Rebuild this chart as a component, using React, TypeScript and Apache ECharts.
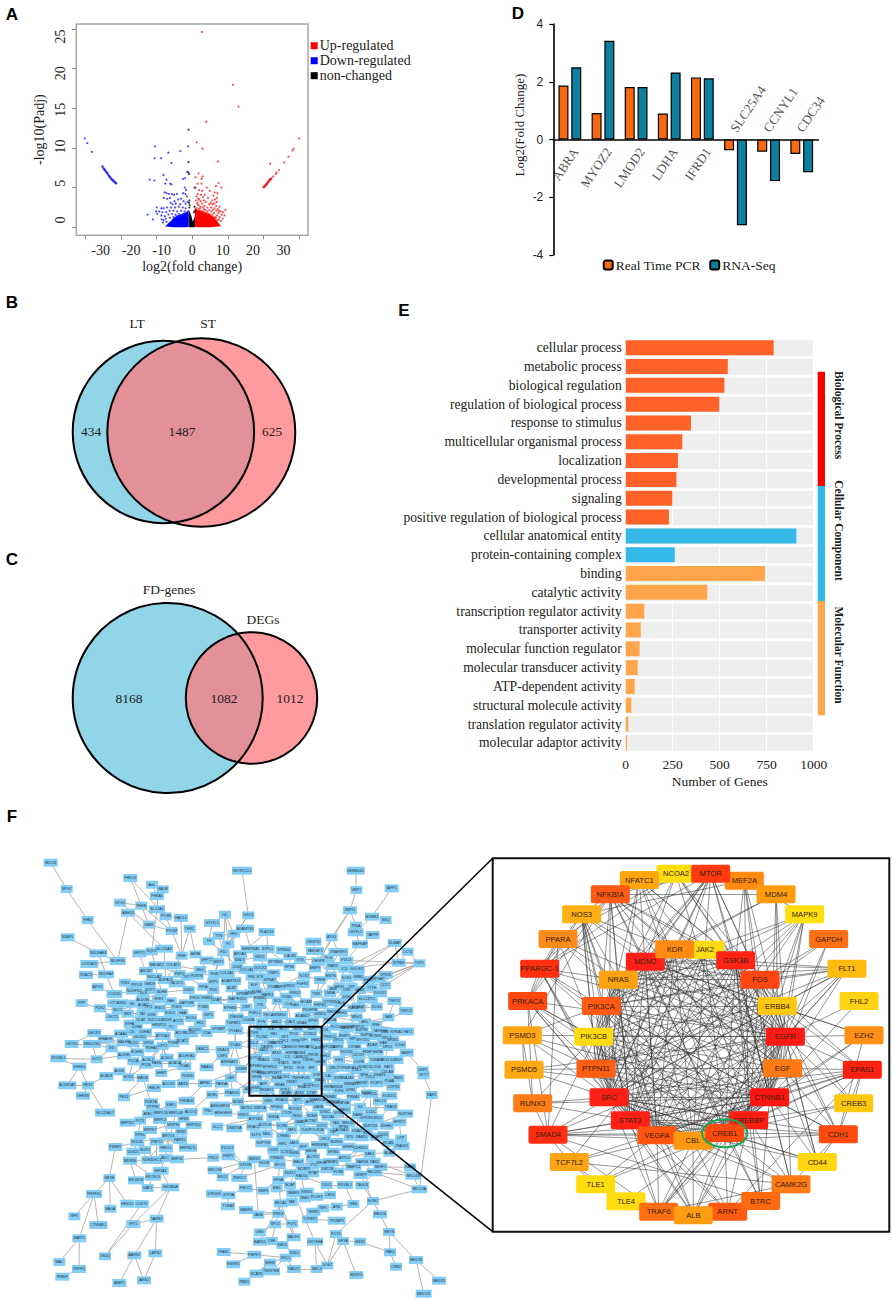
import React, { useEffect, useRef } from "react";
import * as echarts from "echarts";

const SERIF = "Liberation Serif";
const SANS = "Liberation Sans";

// ---------- Panel A ----------
const upPoints = [[3.2,24.6],[13.4,17.95],[15.2,15.2],[4.6,13.3],[1.5,10.7],[3.4,9.9],[8.5,8.3],[2.1,6.8],[3.4,6.4],[3.1,6.1],[1.8,5.5],[8.7,5.6],[3.1,5.5],[7.8,5.2],[9.6,5.0],[1.2,5.0],[4.8,5.0],[2.3,4.7],[3.3,4.6],[5.8,4.6],[1.8,4.2],[7.4,4.4],[8.3,4.3],[2.9,4.1],[4.1,4.1],[7.0,4.0],[1.5,3.9],[3.6,3.8],[5.2,3.7],[8.1,3.7],[7.5,3.5],[2.3,3.5],[6.6,3.4],[2.8,3.3],[4.5,3.2],[8.0,3.2],[1.7,3.1],[3.3,3.0],[7.2,3.0],[5.6,2.9],[6.7,2.9],[2.1,2.8],[4.0,2.7],[7.9,2.7],[9.0,2.6],[2.7,2.6],[3.5,2.5],[5.0,2.5],[6.2,2.5],[1.4,2.4],[7.3,2.4],[8.4,2.3],[2.3,2.3],[4.4,2.2],[5.6,2.2],[6.8,2.2],[10.9,2.2],[3.0,2.1],[7.9,2.1],[9.3,2.0],[10.2,1.9],[1.8,2.9],[3.7,2.0],[5.0,2.0],[6.3,2.0],[8.6,1.8],[2.5,2.4],[4.3,1.8],[7.2,1.8],[9.7,1.6],[10.6,1.5],[5.6,1.7],[6.7,1.6],[8.1,1.5],[9.0,1.3],[10.0,1.1],[7.8,1.2],[8.7,1.0],[6.0,1.5],[4.9,1.7],[7.4,1.3],[8.3,0.9],[9.4,0.8],[3.9,2.3],[2.0,3.6],[1.3,3.4],[1.1,6.3],[3.9,3.4],[6.1,3.1],[8.8,2.1],[25.6,8.0],[27.4,6.7],[28.5,7.2],[30.2,8.16],[31.6,8.9],[32.9,9.67],[33.3,9.9],[35.1,11.2],[27.7,6.9],[26.6,6.4]];
const upLine = [[23.5,5.06],[23.8,5.2],[24.1,5.3],[24.4,5.45],[24.7,5.6],[25,5.75],[25.3,5.9],[25.6,6.05],[25.9,6.15]];
const upArea = [[0.9,0.05],[0.9,2.4],[2,2.2],[3.5,2.0],[5,1.8],[6.5,1.5],[7.5,1.1],[8.5,0.6],[9.5,0.15],[6,0.02],[3,0]];
const downPoints = [[-12.2,10.2],[-1.3,10.2],[-3.9,9.6],[-7.8,9.4],[-12.3,8.7],[-10.2,8.7],[-6.8,8.1],[-1.6,7.0],[-9.4,6.6],[-3.0,6.1],[-2.3,6.2],[-13.9,6.0],[-12.4,5.9],[-8.4,6.0],[-8.8,5.5],[-7.2,5.5],[-6.8,5.4],[-2.4,5.0],[-2.0,4.7],[-9.0,4.4],[-8.4,4.3],[-7.6,4.2],[-6.6,4.2],[-5.9,4.1],[-5.0,4.2],[-3.0,4.3],[-2.2,4.2],[-1.7,3.9],[-9.3,3.7],[-8.2,3.6],[-7.3,3.7],[-5.8,3.3],[-4.6,3.5],[-3.6,3.6],[-2.8,3.3],[-7.1,3.1],[-6.4,2.9],[-5.4,3.0],[-3.9,2.9],[-2.2,3.0],[-1.5,3.2],[-11.6,2.5],[-10.1,2.4],[-9.4,2.4],[-8.2,2.5],[-6.9,2.5],[-5.6,2.5],[-4.4,2.6],[-3.1,2.5],[-2.1,2.4],[-11.8,2.0],[-10.8,2.0],[-9.8,1.9],[-8.5,1.9],[-7.4,2.1],[-6.1,2.1],[-4.9,2.0],[-3.6,2.1],[-2.5,2.0],[-14.6,1.6],[-11.5,1.7],[-10.1,1.5],[-9.0,1.4],[-7.8,1.6],[-6.6,1.7],[-5.5,1.6],[-4.3,1.7],[-2.9,1.7],[-12.9,1.0],[-10.0,1.0],[-9.4,0.9],[-8.7,1.1],[-7.3,1.2],[-6.1,1.3],[-5.0,1.4],[-3.7,1.5],[-35.2,11.2],[-34.4,10.6],[-32.9,9.5],[-9.6,0.6],[-8.4,0.7]];
const downLine = [[-29.4,7.66],[-29,7.4],[-28.6,7.2],[-28.2,7],[-27.8,6.8],[-27.4,6.55],[-27,6.35],[-26.6,6.15],[-26.2,6],[-25.8,5.85],[-25.4,5.7],[-25,5.56]];
const downArea = [[-1.1,0.05],[-1.1,2.2],[-2,1.9],[-3.2,1.7],[-4.8,1.5],[-6,1.2],[-7,0.8],[-8,0.45],[-8.9,0.12],[-6,0.02],[-3,0]];
const nonPoints = [[-1.2,12.3],[-1.2,8.2],[-1.0,6.7],[-1.3,6.9],[-0.9,3.4],[-1.0,3.1],[-0.8,2.8],[0.8,2.6],[0.9,2.1],[0.8,5.0],[-0.9,2.5],[0.6,1.9]];
const nonArea = [[-1,0],[-1,2.2],[-0.3,1.5],[0.2,0.7],[0.9,1.4],[0.9,0]];
const xLabelsA = [-30, -20, -10, 0, 10, 20, 30];
const xTicksA = [-35.1, -23.4, -11.7, 0, 11.7, 23.4, 35.1];
const yTicksA = [0, 5, 10, 15, 20, 25];

// ---------- Panels B, C ----------
const vennB = { left: "434", both: "1487", right: "625", names: ["LT", "ST"] };
const vennC = { left: "8168", both: "1082", right: "1012", names: ["FD-genes", "DEGs"] };

// ---------- Panel D ----------
const genesD = ["ABRA", "MYOZ2", "LMOD2", "LDHA", "IFRD1", "SLC25A4", "CCNYL1", "CDC34"];
const pcrValues = [1.87, 0.92, 1.82, 0.9, 2.15, -0.37, -0.42, -0.5];
const rnaValues = [2.5, 3.42, 1.82, 2.32, 2.12, -2.97, -1.44, -1.13];

// ---------- Panel E ----------
const goTerms = ["cellular process","metabolic process","biological regulation","regulation of biological process","response to stimulus","multicellular organismal process","localization","developmental process","signaling","positive regulation of biological process","cellular anatomical entity","protein-containing complex","binding","catalytic activity","transcription regulator activity","transporter activity","molecular function regulator","molecular transducer activity","ATP-dependent activity","structural molecule activity","translation regulator activity","molecular adaptor activity"];
const goCounts = [787,543,525,498,347,301,278,270,248,230,908,261,741,434,99,80,74,64,48,30,14,7];
const goGroups = [0,0,0,0,0,0,0,0,0,0,1,1,2,2,2,2,2,2,2,2,2,2];
const goColors = ["#ff6229", "#33b8e8", "#ffa64d"];
const goSide = ["Biological Process", "Cellular Component", "Molecular Function"];

// ---------- Panel F, whole network ----------
const netNodesOuter: [string, number, number][] = [
["MICU3",152,98],["SPG7",200,177],["PHB2",263,270],["PHKG2",391,144],["AGL",456,164],["GALM",488,178],["PHKA1",471,198],["GYG1",360,218],["PHKB",424,227],["SLC2A1",471,238],["ABHD5",384,248],["PYGB",497,259],["HACL1",543,264],["GBE1",447,284],["PYGM",515,303],["TFRC",569,296],["GC",675,254],["GGCX",745,256],["VKORC1L1",726,122],["GYLTL1",636,279],["ADAMTS9",735,296],["PLA2G4",800,306],["TTN",656,317],["HPx",702,311],["TH",627,334],["F5",685,343],["F10",670,367],["APOA2",720,373],["SERPINA1",752,358],["SYPL1",803,357],["SPINK4",851,361],
["NUBPL",203,322],["NDUFAF6",295,370],["COX7A2L",268,402],["NDUFS4",353,393],["VDAC3",258,435],["NDUFA4",318,433],["APOO",293,471],["COX4I1",343,492],["TXN1",375,458],["PIPOX",410,464],["NDUFS2",402,482],["GFPT1",418,370],["NQO1",455,364],["SLC25A3",492,356],["PKM",545,377],["ASPA",586,373],["GFPT2",620,391],["MBOAT2",470,406],["COLAT1",519,406],["ABCB7",438,423],["SUCLA2",463,441],["AGPAT4",497,450],["GMDS",449,463],["PMT2",539,432],["BSG",600,420],["PUSTB",590,437],["FGB",643,432],["ADAMTS13",693,453],["ALB2",695,475],["KPNB1",728,492],
["PPP",245,519],["PDK2",300,535],["OXCT1",337,562],["SLC1",353,541],["NNT",383,551],["TAT",427,551],["ALDOB",428,510],["ACAD",429,526],["GK",396,521],["DLAT",423,571],["SUCLG1",465,570],["ETFA",389,581],["SDHB",485,487],["IFIH1",477,508],["FAH",512,514],["DGKD",566,480],["SOD1",510,549],["GAA",547,549],["ACO2",534,574],["NOX4",573,564],["PC",514,590],["HRSP12",478,584],["ACAA2",363,611],["DECR1",283,609],["HIBADH",317,627],["HADHB",372,637],["GSTK1",215,642],["HSD17B4",276,642],["IVD",335,655],["LDHA2",435,607],["GLUD1",420,622],["ATP5A1",488,618],["CPT2",488,648],["ECHS1",412,667],["ALDH9",372,676],["ACSL1",444,690],["ACSL3",500,683],["STOML1",175,685],["GOT2",290,688],["DHRS4",238,710],["PCCA",400,694],["IP11B",438,704],["ALDH",358,724],["ACAD8",319,738],["SOD2",385,742],["MAOB",428,744],["ALDH1A3",202,766],["PEX2",264,766],["DHRS9",249,797],["PEX1",372,802],["SLC25A17",315,848],["BCAT2",547,632],["MLXIPL",570,610],["CDA",620,609],["ALDH7A1",560,678],["SHMT",484,729],["ITGA5",553,709],["NAA10",620,712],["PDE4D",563,737],["ACOX2",506,762],["AASS",549,761],["AIFM1",615,760],["PARVA",665,761],["HIBCH",462,774],["LAMC1",607,657],["GNA13",668,660],["CSF1",667,678],["ITGA3",705,645],["ITGA10",706,602],["GPIHBP",655,597],["ARHGAP1",688,697],["CREM",723,717],["LBP",692,744],["PPARGC",697,788],["MOBL",637,794],
["PDE7A",453,817],["PTPN9",459,832],["EBF1",513,824],["PRKAG2",560,812],["ATAC",444,852],["MRPL18",482,848],["MRPL46",527,849],["ADCY2",572,846],["GFM1",551,866],["MRPS27",383,878],["PLT1",420,872],["MRPS10",581,885],["MRTO4",505,918],["RRS1",544,905],["MRPS27L",564,953],["HBS1L",498,955],["NOC3L",412,937],["PSMF1",346,951],["WDR36",390,992],["NOB1",442,990],["ADC",495,984],["EEF1D",531,988],["EIF4A1",482,1022],["EXOSC8",408,1051],["EXOSC9",459,1040],["GAP2",443,1074],["EIF2B4A",511,1072],["HEXB",328,1044],["PRPF31",282,1092],["NAGA",331,1136],["HEXDC",382,1121],["COX7C",425,1122],["RFK",223,1159],["CTNNBL1",295,1185],["SART1",238,1225],["WAC",178,1296],["PRPF3",237,1317],["IPMKP",187,1340],["GNG2",315,1279],["IFIT1",400,1182],["VARS2",470,1166],["AARS2",403,1276],["LARS2",466,1270],["AIMP1",358,1359],["IARS2",432,1351],
["PDCD4",682,955],["PNC2",640,983],["FSIP1",685,979],["WECOM",644,1021],["EXO1",668,1042],["ZNF217",718,1044],["GTF2H3",642,1091],["GTF3A",685,1096],["PHLYC",737,1075],["SMPX",790,1082],["TCEA3",684,1129],["GTF2B",736,1006],["MEIS2",763,988],["RUVB",793,1000],["WASF3",738,1140],["JADE",775,1154],["PRKG",835,1151],["BRCA1",842,1120],["TAF",875,1116],["MYO5",839,1005],["KPNA",835,1050],["NCAP",870,1066],["UNG",779,1207],["RFC2",826,1183],["POT1",876,1181],["BACH1",881,1222],["BARD1",780,1235],["CBF",815,1233],["SMC5",847,1245],["DROSHA",945,1235],["PIAS1",671,1266],["PMPKY",763,1274],["EWSR1",700,1303],["MSH2",810,1298],["NSD1",884,1270],["XRCC",857,1283],["NCAPD",770,1331],["TWISTNB",813,1324],["PMS1",733,1355],["RAD17",882,1317],["SMC3",950,1317],["DOK2",982,1306],["WDR76",1069,1335],["RCTK",1008,1212],["NFYA",1029,1233],["WSX1",1080,1235],["MED16",1140,1153],["SMTN",1167,1206],["PAK4",1170,1267],["CHN2",1188,1310],["MED18",1248,1290],["MED25",1317,1352],["MED12L",1271,1391],["NONO",1119,1113],["TAGLN",1087,1066],["CENPP",1082,1035],["SEC24C",1123,1027],["SENP1",1141,1011],["SAR1B",1087,996],["PAK1",1124,995],["CDKN2C",1082,955],["SAE1",1109,971],["RARS",1230,1012],["SEC16B",1240,1037],["SEC23A",1258,1078],["NAP5",1295,795],["SYT7",1271,736],["USP1",1268,721],
["KIF5",805,812],["MCM4",714,815],["ARHGEF18",660,827],["ARHGEF3",670,848],["PNC",625,844],["DLC1",652,890],["DNMT3A",703,895],["ATP1B3",766,866],["WNT5",730,855],["ELP3",768,914],["NEIL",800,911],["BOTCH",795,884],["KCNN",846,887],["CREB5",850,919],["HIF1",848,941],["JAK3",881,940],["EPP",910,950],["HMGB",933,963],["ACTR2",939,982],["LGR6",883,970],["MAU2",895,997],["NCBP2",912,1016],["WTAP",940,1030],["KMT2B",982,1018],["FLNB",1015,1025],["SREBF2",993,996],["ATP5J",1033,984],["NUP54",1009,936],["CFL2",975,926],["RAB23",1085,922],["STIL",1050,920],["DNAJ",1071,904],["CACNA1I",1022,901],["TAX",1007,878],["CCDC",1113,845],["RAB6",1073,855],["EID1",1133,865],["SEC13",1140,814],["NUP133",1111,889],["ZDHHC",1160,887],["HPRT1",1198,877],["TEAD3",1172,831],["NUP188",1216,851],["IDI",1080,831],["ITGA",1035,819],["KCNJ11",1168,797],["NUP205",1110,792],["LPP",1203,925],["ZNA201",1205,948],["RCAN",1165,938],["ADAM",1168,968],["TLE2",916,900],["CDK5",900,875],["APC",893,810],["ATF1",930,815],["GATA",955,832],["DTNC",975,846],["ROCK2",885,836],["TBX3",890,858],["RDM4",936,857],["ACTN2",932,872],["LIG",900,876],["DOT2",966,887],["VPS4",1015,850],
["BAND7",1040,594],["WWP1",1033,617],["HIP",1058,627],["MYO1C",1089,631],["KCNH2",1127,618],["ADAR",1117,646],["CRYAB",1063,650],["FKBP",1102,665],["HSPA",1133,665],["CRYZL1",1155,690],["CLPB",1077,696],["EIF4",1017,689],["PTPN2",1030,713],["COG3",1127,711],["KAT1",1165,712],["CULAB",1162,726],["DNAJA1",1040,743],["NMNAT1",1054,762],["NPH",1092,735],["PLAA",1168,752],["PCMT1",1130,760],["UFD1",1163,651],["YAP",1130,603],["GSK",1150,603],["TCF4",1017,782],["UPB1",1052,780],["CAL",985,738],["HRG",985,772],
["DENND4C",1067,122],["VMP1",1069,180],["IAPP1",1175,175],["WIPI1",1050,241],["MTMR1",1116,260],["SIK2",1157,270],["PIGA",1068,287],["LETFL1",1067,307],["TAPPF",1118,315],["MAPKAP",1080,343],["SLMAP",1184,339],["CCT4",1223,365],["TCP1",1258,400],["STRBX",1196,398],["ATG5",995,322],["CHGP10",940,335],["TAB1BP1",945,363],["TRAF3IP3",1015,366],["PDLI3",1039,391],["CHGP6",955,394],["IRAK3",998,408],["IC3",1033,416],["GIGYF2",1070,418],["VPS35",1157,435],["PRPSAP",1132,448],["TTYH",1115,473],["CLTC",1155,466],["MSTN",992,437],["TMEM",960,450],["WFS1",1018,470],["SLC12",1092,507],["TTC",1115,508],["ITPRIPL1",995,516],["WNK2",1025,549],["WNK1",1070,562],["ARL",1095,577],["RNF",1128,585],["SAR",1165,562],["TRPC1",1183,513],["TRPC5",1218,543],["FAT1",1224,605],["GRWD",1178,630],["COG4",1200,644],["VAMP7",1220,668],["ANK",1000,478],["DGK",1040,500],["GIT",1055,470],
["CD68",711,410],["DOCK2",781,413],["NSD3",719,390],["KIF21",780,382],["SPTBN4",826,397],["RPS6",868,411],["CALM1",871,378],["GRID2",868,468],["KPNA7",809,450],["FGFR1",908,462],["RND2",885,490],["SOX2",912,437],["WCAM",918,517],["TNIK",949,491],["MAPK1",802,494],["STX",780,440],["FZD9",725,507],["ELF",762,466],["MAP7",700,508],["CDAP",648,511],["EPHB4",690,533],["DSP",739,532],["PVRL1",765,548],["ITN",780,525],["ZNF638",708,562],["PECAM1",813,556],["MS4",846,555],["ADAM17",908,559],["GRB10",960,553],["RPS9",939,572],["CLK",865,523],["RAG",885,524],["SCD",833,512],
];
const netNodesCore: [string, number, number][] = [
["IL6",778,597],["ICA",813,598],["MCT",850,597],["NOS",893,596],["SIRT",937,596],["PLCB4",785,620],["CFL1",852,633],["PPIB",887,634],["IGF",910,631],["CASP3",800,650],["CAMK2G",868,651],["MYC",929,652],["HBB2",948,630],["JAK2",791,661],["ATK2",830,670],["HSP90",874,669],["MDM4",900,668],["PIK3R",940,675],["CHK1",975,678],["NOTCH",765,684],["CDK",830,690],["C3",862,680],["CAMK2D",902,680],["EPHB2",768,708],["MTHFD2",809,712],["ETS1",866,713],["FOS",902,714],["MIF",935,713],["NFKB",770,742],["PKMYT",826,728],["VGF",950,735],["TNFSF",893,745],["PDK",917,745],["APP",790,762],["TWIST",875,757],["HDAC3",912,772],["KDT",947,768],["ADK",745,778],["SREBF1",800,780],["ATF3",898,790],["CTBP",935,790],
["PTEN",760,610],["RB1",822,612],["TP53",880,612],["CCND1",930,612],["BCL2",760,640],["MAPK3",830,640],["RHOA",910,650],["CASP9",955,655],["STAT1",850,700],["SMAD2",790,690],["SMAD3",790,730],["NCOR1",850,740],["TGFB1",925,690],["IGF1R",960,695],["HRAS",840,765],["KRAS",770,725],["PTK2",855,780],["RAC1",960,750],["SP1",855,622],["JUN",812,640],["MYB",890,700],["ESR1",770,775],["RELA",830,745],["BRAF",860,790],["NCK1",925,765],
["TGFBR1",700,580],["CD44A",745,570],["FYN",785,575],["ABL1",830,575],["CAV1",872,575],["GNAS",905,580],["LCK",975,600],["PRKCA",990,570],["PLCG1",1010,590],["ERBB2",780,505],["ITGB1",860,500],["ITGB3",820,470],["GNB1",750,490],["TUBB",770,485],["HSPB1",960,525],["LMNA",990,490],["PDGFRB",930,540],["NEDD4",1000,545],["CBLB",1020,520],["PAK2",1060,535],["SYK",1080,535],["DLG4",1130,530],
["PRKCD",990,620],["PPP2CA",985,650],["DUSP1",1010,650],["ROCK1",1040,665],["CDC37",1075,675],["TUBA1A",1130,690],["UBE2I",1190,690],["SUMO1",1095,710],["PIAS4",1060,715],["UBC",1000,715],["SKP1",1015,745],["CUL1",1070,720],["CUL3",1110,740],["RBX1",1195,745],["KEAP1",1140,735],["FBXW7",1085,760],["NEDD8",1010,770],["COPS5",1180,770],["DDB1",1100,790],["PSMA1",1060,800],["PSMB5",990,800],["PSMC3",1010,820],["UBB",1155,605],["RPL3",1160,625],["HSPA8",1045,590],["NUP98",1085,600],["NUP62",1100,615],["RAN",1150,640],["KPNA2",1190,605],["XPO1",1015,630],["TNPO1",1075,590],
["SETD2",740,835],["KMT2A",780,835],["EP300",830,830],["HDAC1",845,810],["HDAC2",760,890],["SIN3A",820,860],["CTCF",860,850],["SMARCA4",955,810],["ARID1A",1000,815],["NCOA1",985,860],["MED1",1035,840],["MED12",1045,880],["POLR2A",950,900],["TAF1",875,900],["GTF2F1",1100,865],["TBP",1000,905],["SUPT5H",790,940],["CDK9",820,960],["CCNT1",860,965],["HNRNPA1",960,945],["SRSF1",1045,950],["SF3B1",1000,965],["U2AF1",1130,920],["DDX3",1150,915],["EIF4E",965,1000],["PABPC1",1060,1010],["RPS3",1030,890],["NCL",1100,910],["TRIM28",830,985],["YY1",940,1005],["SUZ12",870,1030],
["EED",830,1075],["RBBP4",880,1090],["BMI1",915,1105],["PCGF2",950,1100],["CBX4",990,1095],["RING1",920,1085],["TERF2",940,1145],["RIF1",970,1135],["ATM",1010,1130],["TOPBP1",930,1168],["TP53BP1",1010,1172],["DDX1",980,1065],["RUVBL1",1035,1065],["NBN",1060,1122],["RAD50",905,1038],
["CS",395,605],["IDH2",455,555],["MDH2",500,570],["PDHA1",455,655],["PDHB",520,640],["ACLY",540,610],["FASN",470,700],["ACACA",525,700],["SCD1",400,640],["GPD2",445,640],["LDHB",410,590],["PGK1",530,530],["ENO1",480,535],["TPI1",445,530],["PKLR",585,505],["GAPDHS",560,520],["PGM1",610,530],["G6PD",625,555],["HK2",600,580],["ALDOC",585,600],["TALDO1",530,460],["TKT",560,440],["RPIA",610,470],["PGD",640,480],["GLS",430,490],["GOT1",450,480],["ASS1",365,520],["OTC",340,520],
["WNT3",655,395],["FN1",755,440],["COL1A1",740,420],["COL4A1",680,430],["SPP1",640,455],["THBS1",620,505],["TIMP1",820,430],["MMP2",840,470],["MMP9",945,415],["VTN",900,390],["PLG",985,385],
["SOS1",1040,445],["GRB2",1075,440],["SHC1",1105,450],["GAB1",1080,480],["CRK",1040,480],["DOCK1",1140,490],["ELMO1",1075,530],
["MRPL3",480,870],["MRPS5",520,885],["MRPS7",450,900],["RPS5",420,915],["FARS2",540,930],["PNPT1",470,935],["NOP2",435,960],["DKC1",470,990],["DDX21",400,965],
];
const netChains = [
"MICU3 SPG7 PHB2 NDUFS4","NUBPL NDUFAF6 NDUFS4","COX7A2L NDUFS4","VDAC3 NDUFA4","APOO COX4I1","NDUFA4 COX4I1 NDUFS2","NDUFAF6 NDUFA4","PHKG2 PYGB","PHKG2 PHKB","AGL GALM","AGL PHKA1","PHKA1 SLC2A1 PYGB","GYG1 PHKB","GYG1 GBE1","ABHD5 SLC25A3","ABHD5 NDUFS4","PHKB PYGM","PHKB GBE1","SLC2A1 NQO1","PYGB PYGM","PYGB HACL1","HACL1 PKM","GBE1 PYGM","PYGM PKM","TFRC PKM","TFRC ASPA","GC HPx","GC F5","GC F10","GGCX F5","GGCX F10","VKORC1L1 GGCX","GYLTL1 TH","ADAMTS9 SERPINA1","ADAMTS9 F5","TTN F10","TTN HPx","HPx F5","TH F10","PLA2G4 SYPL1","PLA2G4 APOA2","APOA2 CD68","F10 CD68","F5 ADAMTS13","SERPINA1 KIF21","SYPL1 RPS6","SPINK4 CALM1",
"GFPT1 NQO1","GFPT1 GMDS","GFPT2 ASPA","GFPT2 PUSTB","PKM ASPA","PKM AGPAT4","SLC25A3 AGPAT4","NQO1 SDHB","MBOAT2 PMT2","COLAT1 PMT2","COLAT1 BSG","ABCB7 SUCLA2 AGPAT4","GMDS SDHB","BSG FGB","PUSTB FGB","FGB ADAMTS13","ADAMTS13 ALB2","ALB2 KPNB1","ALB2 MAP7","KPNB1 FZD9","PMT2 DGKD","SDHB DGKD","SDHB ALDOB","IFIH1 SLC1","FAH ALDOB","FAH ACO2",
"PPP PDK2","PDK2 OXCT1","PDK2 SLC1","OXCT1 SLC1 NNT TAT ALDOB","ACAD GK NNT","DLAT SUCLG1 HRSP12","ETFA ACAD","ETFA ACAA2","SOD1 GAA ACO2","NOX4 ACO2","PC HRSP12 ACO2","ACAA2 HADHB HIBADH DECR1","DECR1 GSTK1","GSTK1 HSD17B4 IVD","HSD17B4 HADHB","STOML1 GOT2","STOML1 DHRS4","GOT2 HSD17B4","GOT2 IVD","GOT2 ALDH9","DHRS4 PEX2","DHRS4 ALDH1A3","ALDH1A3 PEX2","DHRS9 PEX2","PEX2 SLC25A17","PEX2 ACAD8","ACAD8 ALDH SOD2 MAOB","PEX1 MAOB","PEX1 HIBCH","LDHA2 GLUD1","LDHA2 ETFA","ATP5A1 CPT2","CPT2 ACSL1","CPT2 BCAT2","ACSL3 CPT2","ACSL1 ECHS1","ECHS1 ALDH9","ALDH9 PCCA","PCCA IP11B","BCAT2 MLXIPL CDA","ALDH7A1 ITGA5","SHMT ITGA5","ITGA5 LAMC1","NAA10 ITGA3","PDE4D ACOX2","ACOX2 AASS AIFM1 PARVA","AIFM1 CREM","PARVA LBP","LBP CREM","LAMC1 GNA13","GNA13 CSF1","CSF1 ITGA3","GPIHBP ITGA10","ITGA10 ITGA3","ARHGAP1 CREM","HIBCH ACOX2","PPARGC MOBL",
"PDE7A PTPN9","PDE7A MAOB","PTPN9 ATAC","EBF1 ATAC","PRKAG2 EBF1","PRKAG2 AIFM1","ATAC MRPL18 MRPL46 ADCY2","ADCY2 PARVA","GFM1 MRPL46","MRPS27 PLT1 ATAC","PLT1 MRPL18","PLT1 NOC3L","MRPS10 GFM1","MRTO4 RRS1 MRPS27L","MRTO4 HBS1L","MRTO4 MRPL18","HBS1L RRS1","NOC3L MRTO4","PSMF1 NOC3L","PSMF1 HEXB","WDR36 NOB1 NOC3L","WDR36 EXOSC8","NOB1 MRTO4","ADC EEF1D","ADC MRPL46","EEF1D HBS1L","EEF1D PNC2","EIF4A1 ADC","EIF4A1 EIF2B4A","EXOSC8 EXOSC9 GAP2","EXOSC9 WDR36","EIF2B4A GAP2","EIF2B4A IFIT1","EIF2B4A VARS2","HEXB NAGA","HEXB HEXDC","HEXB PRPF31","PRPF31 RFK","PRPF31 CTNNBL1","PRPF31 SART1","SART1 WAC","SART1 PRPF3","PRPF3 IPMKP","GNG2 COX7C","GNG2 IFIT1","IFIT1 VARS2","VARS2 AARS2","VARS2 LARS2","AARS2 AIMP1","AARS2 IARS2","LARS2 IARS2","HEXDC COX7C",
"PDCD4 GTF2B","PDCD4 FSIP1","PNC2 FSIP1 GTF2B","WECOM MEIS2","EXO1 MEIS2","ZNF217 GTF2B","ZNF217 MYO5","GTF2H3 GTF3A","GTF3A PHLYC","PHLYC SMPX","SMPX KPNA","TCEA3 GTF3A","GTF2B MEIS2 RUVB","MEIS2 JADE","WASF3 PRKG","JADE PRKG","PRKG BRCA1 TAF","BRCA1 KPNA","TAF NCAP","MYO5 KPNA","KPNA NCAP","NCAP MAU2","RUVB LGR6","UNG RFC2","RFC2 POT1 BACH1","POT1 PRKG","BARD1 CBF SMC5","BARD1 BRCA1","BACH1 BRCA1","CBF BRCA1","SMC5 NSD1","DROSHA SMC3","DROSHA NCAP","PIAS1 PMPKY","PMPKY XRCC","EWSR1 PMPKY","MSH2 XRCC","NSD1 XRCC","NCAPD MSH2","TWISTNB XRCC","PMS1 MSH2","RAD17 XRCC","RAD17 SMC3","SMC3 DOK2","DOK2 NFYA","DOK2 RCTK","DOK2 DROSHA","WDR76 NFYA","RCTK NFYA WSX1","RCTK NONO","WSX1 PAK4","NONO CENPP","NONO SEC23A","NONO MED16","NONO TAGLN","MED16 SMTN PAK4","SMTN MED18","PAK4 CHN2","MED18 MED25","MED18 MED12L","TAGLN SEC24C","CENPP SEC24C SENP1","SENP1 RARS","SAR1B SEC24C","SAR1B PAK1","PAK1 SEC16B","PAK1 SAE1","CDKN2C ATP5J","SAE1 ATP5J","RARS SEC16B SEC23A","SEC23A SEC24C","SEC16B SEC24C","NAP5 SEC23A","NAP5 SYT7","SYT7 USP1 VAMP7",
"MCM4 KIF5","ARHGEF18 MCM4","ARHGEF3 WNT5","PNC ARHGEF3","DLC1 ATP1B3","DNMT3A ATP1B3","ELP3 NEIL","BOTCH KCNN","CREB5 HIF1 JAK3","EPP HMGB ACTR2","LGR6 MAU2 NCBP2 WTAP","KMT2B FLNB","SREBF2 ATP5J","NUP54 CFL2","RAB23 STIL DNAJ","CACNA1I TAX","CCDC RAB6 EID1","SEC13 TEAD3","NUP133 ZDHHC HPRT1","NUP188 TEAD3","IDI ITGA","KCNJ11 NUP205","LPP RCAN ADAM","ZNA201 LPP","TLE2 CDK5","APC ATF1 GATA DTNC","ROCK2 TBX3 RDM4","ACTN2 LIG DOT2","VPS4 TAX",
"DENND4C VMP1 WIPI1 PIGA","IAPP1 MTMR1","MTMR1 SIK2","MTMR1 LETFL1","WIPI1 ATG5","WIPI1 CHGP6","PIGA LETFL1 MAPKAP","TAPPF MAPKAP","MAPKAP PDLI3","SLMAP STRBX","SLMAP GIGYF2","SLMAP IC3","CCT4 TCP1","CCT4 STRBX","TCP1 VPS35","TCP1 STRBX","TCP1 PDLI3","TCP1 PRPSAP","TCP1 TTYH","TCP1 CLTC","STRBX IC3","ATG5 TRAF3IP3","ATG5 CHGP6","CHGP10 TAB1BP1","TAB1BP1 MSTN","TRAF3IP3 IRAK3","PDLI3 IRAK3 IC3 GIGYF2","CHGP6 MSTN","GIGYF2 TTYH","VPS35 CLTC","VPS35 TTC","PRPSAP DGK","CLTC WNK1","TRPC1 TRPC5","TRPC1 SAR","TRPC5 RNF","FAT1 RNF","SAR ARL","GRWD YAP","COG4 UFD1","VAMP7 COG3","WFS1 GIT","ITPRIPL1 ANK","WNK2 WNK1 ARL",
"CD68 DOCK2","NSD3 KIF21","SPTBN4 RPS6 CALM1","GRID2 KPNA7","FGFR1 RND2 SOX2","WCAM TNIK","MAPK1 STX","FZD9 ELF","MAP7 CDAP","EPHB4 DSP PVRL1 ITN","ZNF638 PECAM1 MS4","ADAM17 GRB10 RPS9","CLK RAG SCD",
"PTEN RB1 TP53 CCND1 HBB2 CASP9 RHOA MAPK3 JUN BCL2 KRAS SMAD2 STAT1 MYB TGFB1 IGF1R RAC1 NCK1 NCOR1 RELA HRAS ESR1 SMAD3 BRAF PTK2",
"TGFBR1 CD44A FYN ABL1 CAV1 GNAS LCK PRKCA PLCG1 NEDD4 CBLB PAK2 SYK DLG4","ERBB2 GNB1 TUBB ITGB3 ITGB1 PDGFRB HSPB1 LMNA","ITGB1 CAV1 ABL1 ERBB2 FYN","ITGB3 MMP2 FN1 COL1A1 COL4A1 SPP1 THBS1 CDAP","TIMP1 MMP2 MMP9 VTN PLG","TIMP1 FN1 STX",
"PRKCD PPP2CA DUSP1 XPO1 HSPA8 TNPO1 NUP98 NUP62 RAN UBB RPL3 KPNA2 COG4","ROCK1 CDC37 TUBA1A UBE2I SUMO1 PIAS4 UBC SKP1 CUL1 CUL3 KEAP1 RBX1 COPS5 FBXW7 DDB1 PSMA1 NEDD8 PSMB5 PSMC3 SMARCA4 ARID1A",
"SETD2 KMT2A EP300 HDAC1 SIN3A CTCF HDAC2 SUPT5H CDK9 CCNT1 TAF1 POLR2A HNRNPA1 SF3B1 SRSF1 TBP RPS3 MED12 MED1 NCOA1 GTF2F1 NCL U2AF1 DDX3","TRIM28 YY1 EIF4E PABPC1","TRIM28 SUZ12 EED RBBP4 BMI1 PCGF2 CBX4 DDX1 RUVBL1 NBN ATM RIF1 TERF2 TOPBP1 TP53BP1","RING1 BMI1 RAD50 SUZ12","YY1 RAD50 DDX1",
"CS LDHB IDH2 MDH2 ACLY PDHB PDHA1 GPD2 SCD1 CS","FASN ACACA","PGK1 ENO1 TPI1 GLS GOT1","PKLR GAPDHS PGM1 G6PD HK2 ALDOC","TALDO1 TKT RPIA PGD THBS1","ASS1 OTC COX4I1","MRPL3 MRPS5 MRPS7 RPS5 DDX21 NOP2 DKC1 PNPT1 FARS2",
"SOS1 GRB2 SHC1 GAB1 CRK DOCK1 ELMO1","GRB2 CRK ITPRIPL1","SHC1 VPS35 PRPSAP",
"WNT3 FGB F10","SPP1 PGD","HSPB1 NEDD4 GRB10","PLCG1 BAND7 HSPA8","DUSP1 CHK1 UBC","PSMB5 HRG","PSMC3 ITGA","SMARCA4 APC","ARID1A ITGA VPS4","EP300 KIF5 APC","HDAC1 SREBF1 KIF5","CTCF TBX3","KMT2A ATP1B3","SETD2 MCM4 ADK","TGFBR1 ITGA10 GPIHBP","CD44A IL6 PTEN","FYN IL6","ABL1 ICA","CAV1 MCT","GNAS NOS","LCK SIRT",
];
const netStars = [
"IL6 ITN PLCB4 CASP3 ZNF638 PECAM1 CFL1 NOTCH","ICA PLCB4 MS4 CFL1 CASP3 ATK2 PVRL1","MCT CFL1 PPIB CAMK2G ADAM17 CLK","NOS IGF PPIB MDM4 GRB10 RPS9 SIRT","SIRT HBB2 IGF MYC PIK3R CHK1 RPS9","PLCB4 CASP3 JAK2 ITGA3 ITGA10 ATK2","CFL1 CAMK2G ATK2 HSP90 C3","PPIB HSP90 MDM4 CAMK2G MYC","IGF MYC MDM4 CAMK2D PIK3R","CASP3 JAK2 ATK2 CDK EPHB2","CAMK2G C3 ETS1 HSP90 CAMK2D CDK","MYC PIK3R FOS MIF CHK1","JAK2 NOTCH EPHB2 CDK ARHGAP1","ATK2 CDK C3 MTHFD2 PKMYT","HSP90 C3 CAMK2D FOS ETS1","MDM4 CAMK2D PIK3R MIF","PIK3R CHK1 VGF MIF","CHK1 BAND7 WWP1 EIF4 HRG CAL","NOTCH EPHB2 NFKB CREM LBP","CDK MTHFD2 PKMYT ETS1 APP","C3 ETS1 FOS PKMYT","CAMK2D FOS MIF TNFSF PDK","EPHB2 NFKB MTHFD2 APP ADK","MTHFD2 PKMYT APP SREBF1","ETS1 TWIST TNFSF PKMYT","FOS TNFSF PDK MIF","MIF VGF PDK KDT","NFKB APP ADK PPARGC SREBF1","PKMYT TWIST SREBF1","TNFSF TWIST HDAC3 ATF3","PDK HDAC3 KDT CTBP","APP ADK SREBF1 KIF5","TWIST ATF3 ROCK2 SREBF1","HDAC3 ATF3 CTBP APC","KDT CTBP ATF1 HRG TCF4","SREBF1 KIF5 ROCK2","ATF3 APC ROCK2 TBX3","CTBP GATA ATF1",
"VGF CAL DNAJA1 PTPN2 NMNAT1","EIF4 CLPB PTPN2 FKBP CRYAB","CAL DNAJA1 HRG TCF4 UPB1","BAND7 WWP1 HIP MYO1C GRB10 WNK1","WWP1 CRYAB KCNH2 ADAR","CRYAB FKBP HSPA CLPB","FKBP COG3 HSPA PCMT1","CLPB PTPN2 NPH COG3","DNAJA1 NMNAT1 NPH PCMT1","NMNAT1 UPB1 TCF4 PLAA","NPH PLAA CULAB KAT1","CRYZL1 HSPA COG3 UFD1","GRB10 ITPRIPL1 WNK2 ARL BAND7","WNK2 ITPRIPL1 SLC12 TTC","ARL RNF MYO1C GRWD","TNIK ITPRIPL1 ANK MSTN","ANK WFS1 DGK GIT","GIT TTYH WNK1 SLC12","TMEM MSTN SOX2 TNIK","WFS1 IC3 IRAK3 MSTN",
"KPNA7 STX ELF MAPK1 KIF21","MAPK1 SCD ITN FZD9","STX DOCK2 CD68 ELF","GRID2 FGFR1 RND2 CLK","SCD CLK PECAM1 MS4","WCAM ADAM17 RAG RND2","PECAM1 DSP PVRL1 MS4 IL6","ZNF638 EPHB4 DSP ITGA10 ITGA3","GRB10 RPS9 ADAM17 SIRT","CDAP EPHB4 FZD9 MAP7",
"LBP ARHGAP1 PPARGC ADK","CREM NOTCH ITGA3 CSF1","ITGA3 JAK2 GNA13 ARHGAP1","ITGA5 PDE4D ALDH7A1","CPT2 ACSL3 IP11B SHMT","ACSL1 PCCA IP11B","HADHB IVD ECHS1 GLUD1 ACAA2","HIBADH ACAA2 IVD","GLUD1 ETFA ATP5A1 ECHS1","SOD2 ALDH PCCA IP11B","DLAT ACAD TAT ETFA HRSP12","SUCLG1 ALDOB ACAD PC","ACO2 HRSP12 GAA SOD1 ATP5A1","NNT GK SLC1 TAT",
"MCM4 ATP1B3 WNT5 ARHGEF18","ATP1B3 BOTCH ELP3 KIF5","BOTCH NEIL KCNN CREB5","KCNN CDK5 LIG TBX3 CREB5","CREB5 LGR6 HIF1 JAK3","JAK3 EPP LGR6 TLE2","TLE2 DOT2 ACTN2 CFL2","DOT2 CFL2 TAX RDM4","HMGB WTAP ACTR2 NCBP2","ACTR2 KMT2B NCBP2 SREBF2","KMT2B SREBF2 WTAP ATP5J","FLNB CDKN2C SREBF2 SAR1B","CFL2 NUP54 CACNA1I","CACNA1I STIL RAB23 DNAJ","RAB6 IDI EID1 DNAJ","IDI CCDC TEAD3 ITGA","NUP205 IDI SEC13 CCDC","SEC13 CCDC NUP133 KCNJ11","NUP133 NUP188 EID1 TEAD3","HPRT1 LPP NUP188","ADAM LPP ZNA201 SAE1 RCAN","DTNC VPS4 TAX GATA","APC KIF5 ROCK2 RDM4",
];

// ---------- Panel F, enlarged module ----------
const hubNodes: [string, number, number, string][] = [
["MEF2A",763,92,"#ff8a10"],["NCOA2",558,71,"#ffdd11"],["NFATC1",448,90,"#ffa60f"],["MTOR",662,71,"#ff3a10"],["MDM4",858,133,"#ff9c10"],["NFKBIA",361,133,"#ff5a14"],["NOS3",275,193,"#ffb015"],["MAPK9",944,193,"#ffde10"],["PPARA",204,267,"#ff8c18"],["GAPDH",1016,267,"#ff7015"],["PPARGC-1",149,356,"#ff2f10"],["FLT1",1071,356,"#ffbb10"],["PRKACA",113,453,"#ff4710"],["FHL2",1107,453,"#ffd213"],["PSMD3",97,556,"#ffa614"],["EZH2",1122,556,"#ff8f15"],["PSMD5",102,659,"#ffa912"],["EPAS1",1117,659,"#ff2210"],["RUNX3",128,760,"#ff7c18"],["CREB3",1091,760,"#ffc810"],["SMAD4",174,854,"#ff2e10"],["CDH1",1045,853,"#ff4a10"],["TCF7L2",238,936,"#ffa414"],["CD44",982,936,"#ffd710"],["TLE1",317,1003,"#ffdc10"],["TLE4",408,1054,"#ffdc10"],["CAMK2G",903,1003,"#ff7a15"],["TRAF6",506,1085,"#ff6f12"],["ARNT",713,1085,"#ff5a10"],["BTRC",812,1053,"#ff6a10"],["ALB",610,1096,"#ff9c12"],
["MDM2",466,335,"#ff2018"],["JAK2",645,299,"#ffdc12"],["KDR",554,298,"#ff8a12"],["GSK3B",737,331,"#ff2515"],["NRAS",385,389,"#ffa212"],["FOS",810,389,"#ff4510"],["PIK3CA",334,468,"#ff5a12"],["ERBB4",862,468,"#ffc810"],["PIK3CB",311,560,"#ffdc10"],["EGFR",886,560,"#ff1a15"],["PTPN11",318,656,"#ff5c14"],["EGF",878,655,"#ff7a12"],["SRC",357,742,"#ff2015"],["CTNNB1",839,742,"#ff1510"],["STAT3",421,811,"#ff2015"],["CREBBP",776,811,"#ff1c10"],["VEGFA",501,856,"#ff5510"],["CBL",609,872,"#ff9a10"],["CREB1",704,849,"#ff4a10"],
];
const hubStars = [
"MTOR MDM2 KDR NRAS PIK3CA PIK3CB EGFR FOS GSK3B CTNNB1 SRC STAT3 NFKBIA PPARGC-1 JAK2",
"NCOA2 CREBBP PPARA PPARGC-1 FOS EGFR GSK3B MDM2 SMAD4",
"NFATC1 CREBBP GSK3B FOS EGF VEGFA SRC MEF2A CREB1 PTPN11",
"MEF2A CREBBP GSK3B MAPK9 CTNNB1 FOS NOS3 EGFR",
"NFKBIA PPARGC-1 PRKACA PIK3CA NRAS SRC GSK3B FOS MDM2 EGFR KDR STAT3 CTNNB1 NOS3",
"MDM4 MDM2 NRAS EGFR CTNNB1 ERBB4 NFKBIA",
"NOS3 PPARGC-1 PRKACA PIK3CA SRC EGF EGFR KDR ALB VEGFA NRAS STAT3 PIK3CB PTPN11",
"MAPK9 ERBB4 FOS EGFR CTNNB1 STAT3 SRC GSK3B CREB1 NRAS PIK3CA",
"PPARA PPARGC-1 EGFR CREBBP STAT3 SMAD4 PRKACA NRAS",
"GAPDH EGFR SRC CTNNB1 FOS",
"PPARGC-1 PRKACA CREBBP PIK3CA SRC EGFR CREB1 NRAS PTPN11 STAT3",
"FLT1 GSK3B VEGFA EGFR SRC FOS ERBB4 EGF PIK3CA NRAS CBL PTPN11 MDM2",
"PRKACA PIK3CB CREB1 SRC CREBBP EGFR PTPN11 RUNX3 STAT3 SMAD4",
"FHL2 CTNNB1 EGFR",
"PSMD3 PSMD5 RUNX3 PIK3CA CTNNB1 SRC EGFR PTPN11 NFKBIA",
"EZH2 EGFR CREB1 CDH1 CTNNB1 MDM2 ERBB4",
"PSMD5 EGFR CTNNB1 PTPN11 SRC",
"EPAS1 EGFR EGF CTNNB1 CREBBP VEGFA CREB3 STAT3 FOS SRC CREB1 CDH1 ERBB4",
"RUNX3 SRC SMAD4 CTNNB1 STAT3 PIK3CB",
"CREB3 CREB1 CREBBP EGFR FOS",
"SMAD4 STAT3 VEGFA CREB1 SRC CTNNB1 EGFR CREBBP TCF7L2 TRAF6 BTRC CBL",
"CDH1 CTNNB1 EGFR SRC CREB1 EGF CBL STAT3 ERBB4 CD44 PIK3CA CAMK2G",
"TCF7L2 TLE1 TLE4 CTNNB1 CREBBP GSK3B CAMK2G",
"CD44 SRC EGFR CTNNB1 ERBB4 STAT3 EGF CREB1",
"TLE1 CREB1 CTNNB1 TLE4 VEGFA",
"TLE4 CTNNB1",
"CAMK2G CREB1 SRC CTNNB1 EGFR CREBBP STAT3 GSK3B",
"TRAF6 SRC STAT3 EGFR VEGFA CBL CTNNB1 BTRC CREB1 CAMK2G EGF",
"ARNT CREB1 EPAS1 CREBBP CBL VEGFA STAT3 CAMK2G",
"BTRC CTNNB1 CREB1 CREBBP GSK3B NFKBIA",
"ALB CREB1 CBL VEGFA STAT3 EGF SRC EGFR",
"MDM2 KDR EGFR SRC STAT3 CREBBP CTNNB1 CREB1 PIK3CA GSK3B FOS PTPN11 VEGFA EGF ERBB4 CBL",
"KDR SRC VEGFA PIK3CA PTPN11 EGFR STAT3 CBL EGF JAK2 FOS NRAS CTNNB1 PIK3CB",
"JAK2 STAT3 SRC EGFR PTPN11 CREB1 CBL EGF PIK3CA CTNNB1 VEGFA ERBB4",
"GSK3B CTNNB1 CREB1 CREBBP STAT3 PIK3CA PIK3CB SRC EGFR VEGFA EGF NRAS ERBB4 CBL PTPN11",
"NRAS PIK3CA PIK3CB EGFR EGF SRC STAT3 PTPN11 CBL CTNNB1 FOS CREBBP VEGFA ERBB4",
"FOS STAT3 CREB1 CREBBP SRC EGFR EGF CTNNB1 PIK3CA PTPN11 VEGFA CBL ERBB4 PIK3CB",
"PIK3CA PIK3CB EGFR EGF ERBB4 SRC STAT3 PTPN11 VEGFA CBL CTNNB1 CREB1 CREBBP",
"ERBB4 EGFR EGF SRC STAT3 PTPN11 CBL PIK3CB VEGFA CTNNB1 CREBBP",
"PIK3CB EGFR EGF SRC STAT3 PTPN11 CBL VEGFA CTNNB1 CREB1",
"EGFR EGF SRC STAT3 PTPN11 CBL VEGFA CTNNB1 CREBBP CREB1",
"PTPN11 EGF SRC STAT3 CBL VEGFA CTNNB1 CREBBP",
"EGF SRC STAT3 VEGFA CBL CTNNB1 CREB1 CREBBP",
"SRC STAT3 VEGFA CBL CTNNB1 CREBBP CREB1",
"CTNNB1 STAT3 CREBBP VEGFA CBL CREB1",
"STAT3 CREBBP VEGFA CREB1 CBL",
"VEGFA CREB1 CREBBP CBL",
"CREBBP CREB1 CBL",
];

const letters: [string, number, number][] = [["A",12,14],["B",12,302],["C",12,559],["D",518,13],["E",404,310],["F",12,816]];

export default function App() {
  const ref = useRef<HTMLDivElement>(null);
  useEffect(() => {
    const chart = echarts.init(ref.current!, undefined, { renderer: "svg" });

    const polySeries = (name: string, area: number[][], color: string) => ({
      type: "custom", name, xAxisIndex: 0, yAxisIndex: 0, silent: true, z: 2,
      data: area, encode: { x: 0, y: 1 },
      itemStyle: { color },
      renderItem: (p: any, api: any) => p.dataIndex === 0
        ? { type: "polygon", shape: { points: area.map((a) => api.coord(a)) }, style: { fill: color } }
        : null,
    });
    const dots = (name: string, data: number[][], color: string, size = 2.2) => ({
      type: "scatter", name, xAxisIndex: 0, yAxisIndex: 0, data, symbolSize: size, itemStyle: { color }, z: 3,
    });
    const serifText = (text: string, x: number, y: number, font = `13.5px ${SERIF}`, extra: any = {}) => ({
      type: "text", x, y, z: 20, ...extra,
      style: { text, font, fill: "#1c1c1c", textAlign: "center", textVerticalAlign: "middle" },
    });

    const seen = new Set<string>();
    const netNodes = [...netNodesOuter, ...netNodesCore].filter((n) => { if (seen.has(n[0])) return false; seen.add(n[0]); return true; });
    const netLinks: any[] = [];
    const addLink = (s: string, t: string) => { if (seen.has(s) && seen.has(t) && s !== t) netLinks.push({ source: s, target: t }); };
    netChains.forEach((c) => { const p = c.split(" "); for (let i = 1; i < p.length; i++) addLink(p[i - 1], p[i]); });
    netStars.forEach((c) => { const p = c.split(" "); p.slice(1).forEach((t) => addLink(p[0], t)); });

    const hubNames = new Set(hubNodes.map((n) => n[0]));
    const hubLinks: any[] = [];
    hubStars.forEach((c) => { const p = c.split(" "); p.slice(1).forEach((t) => { if (hubNames.has(p[0]) && hubNames.has(t) && p[0] !== t) hubLinks.push({ source: p[0], target: t }); }); });

    const hidden = (i: number, max: number, inverse = false) => ({ type: "value", gridIndex: i, min: 0, max, show: false, inverse });

    const option: any = {
      animation: false,
      backgroundColor: "#fff",
      textStyle: { fontFamily: SERIF },
      grid: [
        { left: 76.3, top: 24, width: 231.7, height: 211.3, show: true, borderColor: "#a6a6a6", borderWidth: 1.5, backgroundColor: "#fff" },
        { left: 553.3, top: 24, width: 265, height: 231 },
        { left: 625.7, top: 338.3, width: 188, height: 414, show: true, backgroundColor: "#efeeef", borderWidth: 0 },
        { left: 0, top: 830, width: 490, height: 469 },
        { left: 490, top: 850, width: 400, height: 400 },
      ],
      xAxis: [
        { type: "value", gridIndex: 0, min: -38, max: 38, splitLine: { show: false }, axisLine: { show: false, onZero: false },
          axisTick: { show: true, length: 4, lineStyle: { color: "#8a8a8a" }, customValues: xTicksA },
          axisLabel: { customValues: xLabelsA, fontFamily: SERIF, fontSize: 14, color: "#222", margin: 8 },
          name: "log2(fold change)", nameLocation: "middle", nameGap: 24, nameTextStyle: { fontFamily: SERIF, fontSize: 14, color: "#222" } },
        { type: "category", gridIndex: 1, data: genesD, axisLabel: { show: false }, axisTick: { show: false }, axisLine: { lineStyle: { color: "#000", width: 1.6 } } },
        { type: "value", gridIndex: 2, min: 0, max: 1000, interval: 250, z: 1, axisLine: { show: false }, axisTick: { show: false },
          splitLine: { show: true, lineStyle: { color: "#fff", width: 1 } },
          axisLabel: { fontFamily: SERIF, fontSize: 13.5, color: "#222", margin: 5, formatter: (v: number) => String(v) },
          name: "Number of Genes", nameLocation: "middle", nameGap: 22, nameTextStyle: { fontFamily: SERIF, fontSize: 13.5, color: "#222" } },
        hidden(3, 1470),
        hidden(4, 1200),
      ],
      yAxis: [
        { type: "value", gridIndex: 0, min: -1, max: 25.6, position: "left", splitLine: { show: false }, axisLine: { show: false, onZero: false },
          axisTick: { show: true, length: 4, lineStyle: { color: "#8a8a8a" }, customValues: yTicksA }, axisLabel: { show: false } },
        { type: "value", gridIndex: 0, min: -2.09, max: 26.7, position: "left", splitLine: { show: false }, axisLine: { show: false, onZero: false }, axisTick: { show: false },
          axisLabel: { customValues: yTicksA, rotate: 90, fontFamily: SERIF, fontSize: 14, color: "#222", margin: 9 },
          name: "-log10(Padj)", nameLocation: "middle", nameGap: 30, nameTextStyle: { fontFamily: SERIF, fontSize: 14, color: "#222" } },
        { type: "value", gridIndex: 1, min: -4, max: 4, interval: 2, splitLine: { show: false },
          axisLine: { show: true, onZero: false, lineStyle: { color: "#000", width: 1.6 } }, axisTick: { show: true, length: 4, lineStyle: { color: "#000", width: 1.2 } },
          axisLabel: { fontFamily: SANS, fontSize: 12, color: "#222", margin: 10 } },
        { type: "category", gridIndex: 2, data: goTerms, inverse: true, z: 1, axisLine: { show: false }, axisTick: { show: false },
          splitLine: { show: true, lineStyle: { color: "#fff", width: 2.5 } },
          axisLabel: { fontFamily: SERIF, fontSize: 13.6, color: "#222", margin: 4, interval: 0 } },
        hidden(3, 1407, true),
        hidden(4, 1200, true),
      ],
      legend: [
        { left: 310.7, top: 38.7, padding: 0, orient: "vertical", itemWidth: 7, itemHeight: 7, itemGap: 1, icon: "rect", data: ["Up-regulated", "Down-regulated", "non-changed"],
          textStyle: { fontFamily: SERIF, fontSize: 14, color: "#222", padding: [0, 0, 0, -3] }, selectedMode: false },
        { left: 602.7, top: 258, padding: 0, itemWidth: 9, itemHeight: 9, itemGap: 8.5, data: ["Real Time PCR", "RNA-Seq"],
          textStyle: { fontFamily: SERIF, fontSize: 13.5, color: "#222", padding: [0, 0, 0, -2] }, selectedMode: false },
      ],
      series: [
        polySeries("Up-regulated", upArea, "#f00"),
        polySeries("Down-regulated", downArea, "#00f"),
        polySeries("non-changed", nonArea, "#000"),
        dots("Up-regulated", upPoints, "#f22"),
        dots("Up-regulated", upLine, "#f00", 2.6),
        dots("Down-regulated", downPoints, "#22f"),
        dots("Down-regulated", downLine, "#00f", 2.6),
        dots("non-changed", nonPoints, "#111"),
        { type: "bar", name: "Real Time PCR", xAxisIndex: 1, yAxisIndex: 2, data: pcrValues, barWidth: 10, barGap: "28%",
          itemStyle: { color: "#f96a10", borderColor: "#000", borderWidth: 1.2 } },
        { type: "bar", name: "RNA-Seq", xAxisIndex: 1, yAxisIndex: 2, data: rnaValues, barWidth: 10,
          itemStyle: { color: "#0f7fa0", borderColor: "#000", borderWidth: 1.2 } },
        { type: "scatter", name: "gene labels", xAxisIndex: 1, yAxisIndex: 2, symbolSize: 0, silent: true,
          data: genesD.map((g, i) => {
            const down = pcrValues[i] > 0;
            return {
              name: g, value: [i, down ? -0.62 : 0.42],
              label: { show: true, formatter: "{b}", position: "inside", rotate: 56, align: down ? "right" : "left", verticalAlign: "middle",
                offset: down ? [10, 0] : [-4, 0], fontFamily: SERIF, fontSize: 13, color: "#222" },
            };
          }) },
        { type: "bar", name: "Number of Genes", xAxisIndex: 2, yAxisIndex: 3, barWidth: 15, z: 2,
          data: goCounts.map((v, i) => ({ value: v, itemStyle: { color: goColors[goGroups[i]] } })) },
        { type: "graph", coordinateSystem: "cartesian2d", xAxisIndex: 3, yAxisIndex: 4, layout: "none", silent: true, z: 2,
          data: netNodes.map(([name, x, y]) => ({ name, value: [x, y], symbolSize: [Math.max(12, name.length * 2 + 4), 8] })),
          links: netLinks, symbol: "rect",
          itemStyle: { color: "#84cdf4" },
          lineStyle: { color: "#a89f9a", width: 0.8, opacity: 1, curveness: 0 },
          label: { show: true, position: "inside", formatter: "{b}", fontFamily: SANS, fontSize: 3.6, color: "#243040" } },
        { type: "graph", coordinateSystem: "cartesian2d", xAxisIndex: 4, yAxisIndex: 5, layout: "none", silent: true, z: 2,
          data: hubNodes.map(([name, x, y, color]) => ({ name, value: [x, y], itemStyle: { color } })),
          links: hubLinks, symbol: "path://M2 0H37Q39 0 39 2V16Q39 18 37 18H2Q0 18 0 16V2Q0 0 2 0Z", symbolSize: [39, 18],
          lineStyle: { color: "#333", width: 0.65, opacity: 0.8, curveness: 0 },
          label: { show: true, position: "inside", formatter: "{b}", fontFamily: SANS, fontSize: 7.6, color: "#33200f" } },
      ],
      graphic: { elements: [
        ...letters.map(([t, x, y]) => ({ type: "text", x, y, z: 20, style: { text: t, font: `bold 17px ${SANS}`, fill: "#000", textAlign: "center", textVerticalAlign: "middle" } })),
        serifText("Log2(Fold Change)", 519, 125, `13px ${SERIF}`, { rotation: Math.PI / 2 }),
        // Venn B
        { type: "ellipse", shape: { cx: 163.4, cy: 432, rx: 90.7, ry: 91.2 }, style: { fill: "#92d5e8" }, z: 5 },
        { type: "ellipse", shape: { cx: 201.3, cy: 432.5, rx: 94, ry: 94.2 }, style: { fill: "rgba(255,120,126,0.75)" }, z: 6 },
        { type: "ellipse", shape: { cx: 163.4, cy: 432, rx: 90.7, ry: 91.2 }, style: { fill: "none", stroke: "#000", lineWidth: 2 }, z: 7 },
        { type: "ellipse", shape: { cx: 201.3, cy: 432.5, rx: 94, ry: 94.2 }, style: { fill: "none", stroke: "#000", lineWidth: 2 }, z: 7 },
        serifText(vennB.names[0], 137, 323), serifText(vennB.names[1], 208, 323),
        serifText(vennB.left, 91, 431), serifText(vennB.both, 182, 431), serifText(vennB.right, 272, 431),
        // Venn C
        { type: "circle", shape: { cx: 167.7, cy: 698, r: 95 }, style: { fill: "#92d5e8" }, z: 5 },
        { type: "circle", shape: { cx: 251.5, cy: 698, r: 65.7 }, style: { fill: "rgba(255,120,126,0.75)" }, z: 6 },
        { type: "circle", shape: { cx: 167.7, cy: 698, r: 95 }, style: { fill: "none", stroke: "#000", lineWidth: 2 }, z: 7 },
        { type: "circle", shape: { cx: 251.5, cy: 698, r: 65.7 }, style: { fill: "none", stroke: "#000", lineWidth: 2 }, z: 7 },
        serifText(vennC.names[0], 169, 589), serifText(vennC.names[1], 263, 619),
        serifText(vennC.left, 129, 698), serifText(vennC.both, 224, 698), serifText(vennC.right, 290, 698),
        // E side bars
        { type: "rect", shape: { x: 817.7, y: 371.7, width: 7.3, height: 114.3 }, style: { fill: "#f00" }, z: 5 },
        { type: "rect", shape: { x: 817.7, y: 486, width: 7.3, height: 115 }, style: { fill: "#33b8e8" }, z: 5 },
        { type: "rect", shape: { x: 817.7, y: 601, width: 7.3, height: 114.3 }, style: { fill: "#ffa64d" }, z: 5 },
        serifText(goSide[0], 839, 415, `bold 11.5px ${SERIF}`, { rotation: -Math.PI / 2 }),
        serifText(goSide[1], 839, 530.5, `bold 11.5px ${SERIF}`, { rotation: -Math.PI / 2 }),
        serifText(goSide[2], 839, 655, `bold 11.5px ${SERIF}`, { rotation: -Math.PI / 2 }),
        // F frames
        { type: "rect", shape: { x: 492.7, y: 858.3, width: 396.6, height: 373.4 }, style: { fill: "none", stroke: "#111", lineWidth: 2 }, z: 15 },
        { type: "rect", shape: { x: 249.3, y: 1026.7, width: 72.4, height: 69 }, style: { fill: "none", stroke: "#000", lineWidth: 2 }, z: 15 },
        { type: "line", shape: { x1: 321.7, y1: 1026.7, x2: 492.7, y2: 858.3 }, style: { stroke: "#000", lineWidth: 1.5 }, z: 15 },
        { type: "line", shape: { x1: 321.7, y1: 1095.7, x2: 492.7, y2: 1231.7 }, style: { stroke: "#000", lineWidth: 1.5 }, z: 15 },
        { type: "ellipse", shape: { cx: 724.7, cy: 1133.3, rx: 22.7, ry: 14 }, style: { fill: "none", stroke: "#16a85a", lineWidth: 2 }, z: 15 },
      ] },
    };
    chart.setOption(option);
    return () => chart.dispose();
  }, []);
  return <div ref={ref} style={{ position: "absolute", left: 0, top: 0, width: 892, height: 1299, background: "#fff" }} />;
}
